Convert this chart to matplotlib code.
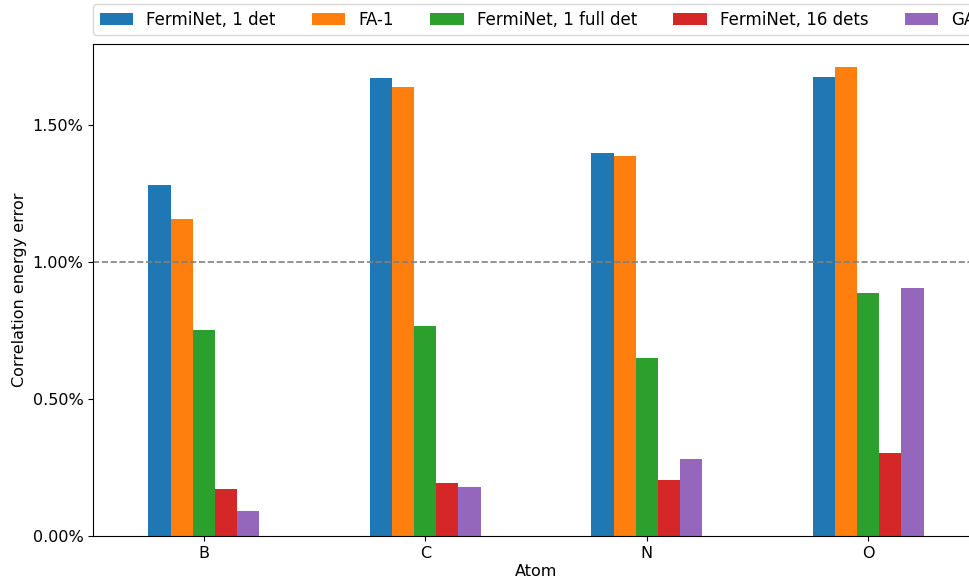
import matplotlib
matplotlib.use('Agg')
import matplotlib.pyplot as plt
import numpy as np
import pandas as pd
from matplotlib.ticker import PercentFormatter

# ── data (fraction of correlation energy) ────────────────────────────────────
atoms = ['B', 'C', 'N', 'O']
ferminet_1det = [0.01280, 0.01670, 0.01397, 0.01675]
fa_1 = [0.01157, 0.01638, 0.01386, 0.01709]
ferminet_1full = [0.00753, 0.00765, 0.00649, 0.00885]
ferminet_16 = [0.00173, 0.00193, 0.00203, 0.00301]
ga = [0.00091, 0.00178, 0.00280, 0.00903]

df = pd.DataFrame({
    'FermiNet, 1 det': ferminet_1det,
    'FA-1': fa_1,
    'FermiNet, 1 full det': ferminet_1full,
    'FermiNet, 16 dets': ferminet_16,
    'GA': ga,
}, index=atoms)

W, H, DPI = 969, 580, 100
fig = plt.figure(figsize=(W / DPI, H / DPI), dpi=DPI)
# axes run a little past the right edge, as in the reference crop
ax = fig.add_axes([93 / W, 44 / H, (979 - 93) / W, (536 - 44) / H])

df.plot.bar(ax=ax, rot=0, legend=False)
ax.axhline(0.01, color='gray', linestyle='--', linewidth=1.2)

ax.yaxis.set_major_formatter(PercentFormatter(xmax=1, decimals=2))
ax.set_yticks([0, 0.005, 0.01, 0.015])
ax.set_xlabel('Atom', fontsize=11.5, labelpad=2)
ax.set_ylabel('Correlation energy error', fontsize=11.5)
ax.tick_params(labelsize=11.5)

handles, labels = ax.get_legend_handles_labels()
fig.legend(handles, labels, loc='upper left', ncol=5, fontsize=12,
           bbox_to_anchor=(93 / W, 1 - 4 / H), borderaxespad=0,
           columnspacing=2.17)

fig.savefig('out.png', dpi=DPI)
